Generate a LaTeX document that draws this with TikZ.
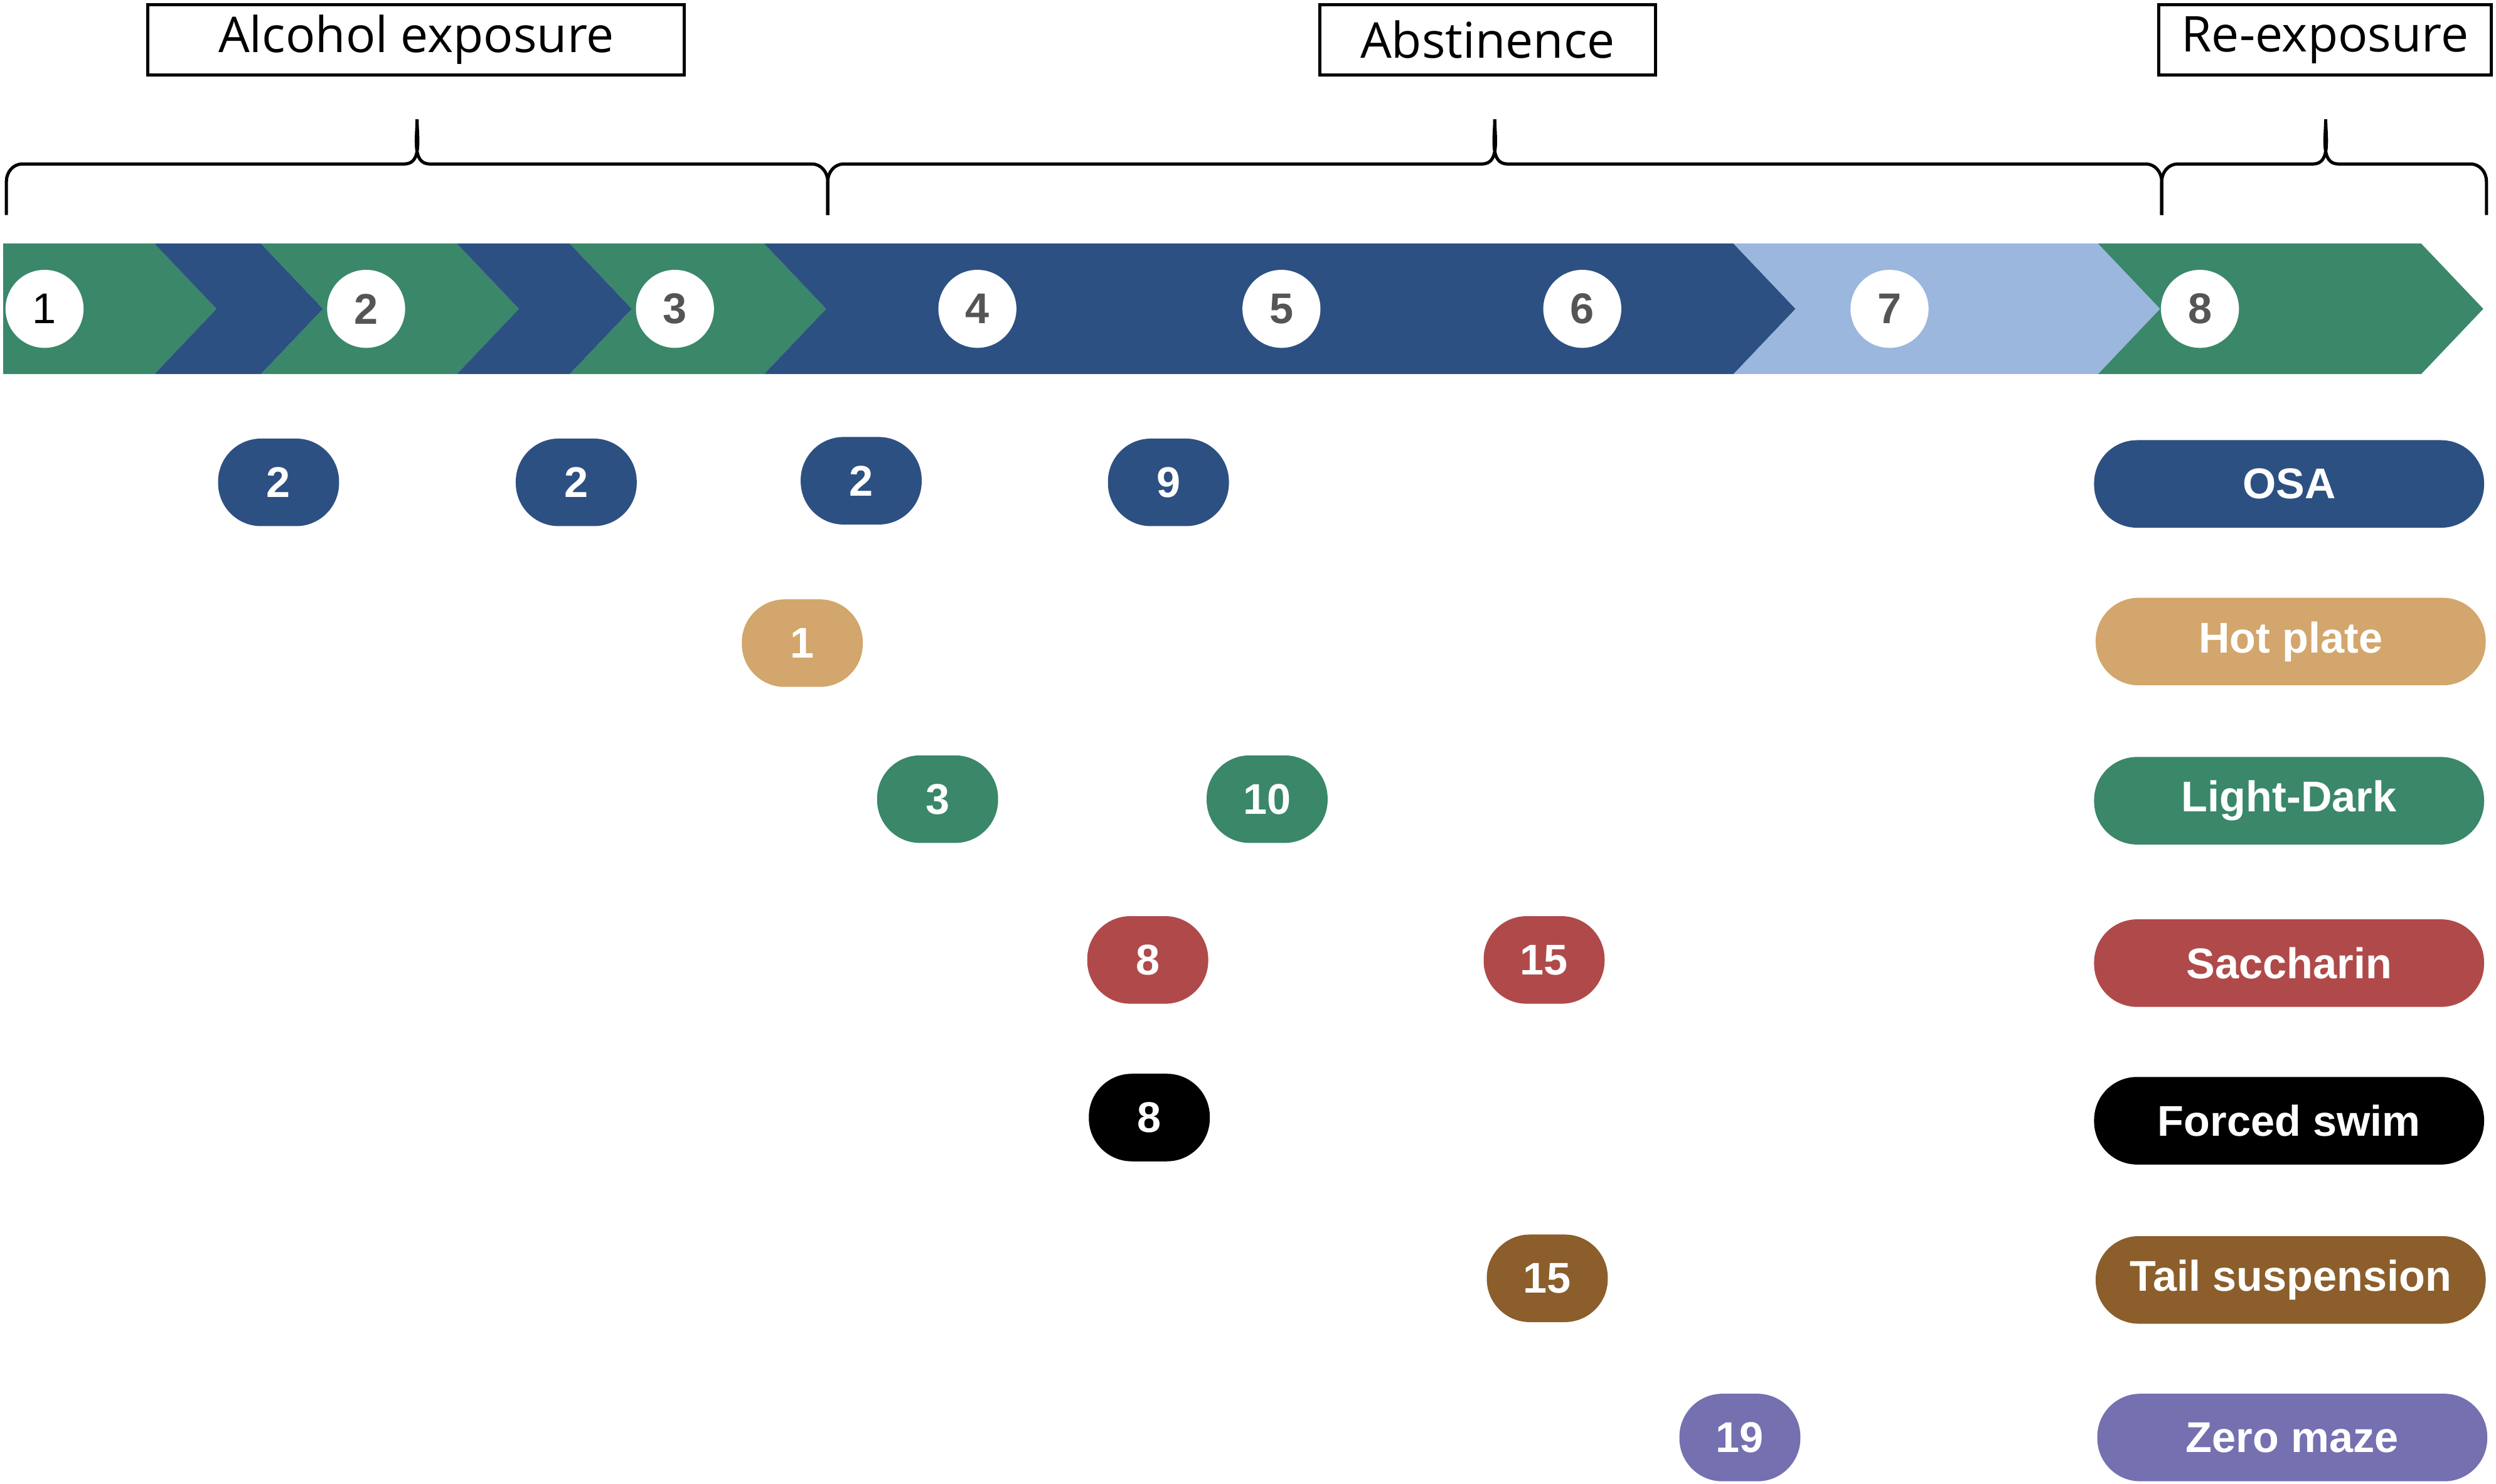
\documentclass[tikz,border=0pt]{standalone}
\usepackage{fontspec}
\setmainfont{Liberation Sans}
\newfontfamily\hdrfont{Open Sans}
\usetikzlibrary{positioning}
\definecolor{navy}{HTML}{2D5082}
\definecolor{teal}{HTML}{3A876A}
\definecolor{sky}{HTML}{9BB7DD}
\definecolor{sand}{HTML}{D2A66C}
\definecolor{brick}{HTML}{B04A4A}
\definecolor{umber}{HTML}{8B5E2B}
\definecolor{lilac}{HTML}{7570B0}
\definecolor{numgray}{HTML}{555555}

% chevron: left top x, right top x
\newcommand{\chev}[3]{\fill[#1] (#2,153) -- (#3,153) -- ({#3+39},194) -- (#3,235) -- (#2,235) -- ({#2+39},194) -- cycle;}
% brace: left, peak, right
\newcommand{\timebrace}[3]{\draw[line width=2pt] (#1,135) -- (#1,114) to[out=90,in=180] ({#1+10},103) -- ({#2-8},103) to[out=0,in=-90] (#2,75) to[out=-90,in=180] ({#2+8},103) -- ({#3-10},103) to[out=0,in=90] (#3,114) -- (#3,135);}

\begin{document}
\begin{tikzpicture}[x=1pt,y=-1pt,
  pill/.style={fill=#1, rounded corners=27pt, minimum width=76pt, minimum height=55pt, inner sep=0pt, text=white, font=\fontsize{27}{27}\selectfont\bfseries},
  tagpill/.style={pill=#1, minimum width=245pt},
  daycirc/.style={circle, fill=white, minimum size=49pt, inner sep=0pt, text=numgray, font=\fontsize{27}{27}\selectfont\bfseries},
  hdrbox/.style={draw, line width=2pt, minimum height=44pt, inner sep=0pt, font=\hdrfont\fontsize{31}{31}\selectfont}]
\useasboundingbox (0,0) rectangle (1568,932);

% header boxes
\node[hdrbox, minimum width=337pt] (hAlc) at (261.5,25) {Alcohol exposure};
\node[hdrbox, minimum width=211pt] (hAbs) at (934.5,25) {Abstinence};
\node[hdrbox, minimum width=209pt] (hRe) at (1460.5,25) {Re-exposure};

% braces
\timebrace{4}{262}{520}
\timebrace{520}{939}{1358}
\timebrace{1358}{1461}{1562}

% timeline band
\fill[teal] (2,153) -- (97,153) -- (136,194) -- (97,235) -- (2,235) -- cycle;
\chev{navy}{97}{164}
\chev{teal}{164}{287}
\chev{navy}{287}{358}
\chev{teal}{358}{480}
\chev{navy}{480}{1089}
\chev{sky}{1089}{1318}
\chev{teal}{1318}{1521}

% days
\node[daycirc, text=black, font=\fontsize{27}{27}\selectfont] (d1) at (28,194) {1};
\foreach \n/\x in {2/230,3/424,4/614,5/805,6/994,7/1187,8/1382}
  \node[daycirc] (d\n) at (\x,194) {\n};

% test labels
\node[tagpill=navy] (tOSA) at (1438,304) {OSA};
\node[tagpill=sand] (tHot) at (1439,403) {Hot plate};
\node[tagpill=teal] (tLD) at (1438,503) {Light-Dark};
\node[tagpill=brick] (tSac) at (1438,605) {Saccharin};
\node[tagpill=black] (tFS) at (1438,704) {Forced swim};
\node[tagpill=umber] (tTS) at (1439,804) {Tail suspension};
\node[tagpill=lilac] (tZM) at (1440,903) {Zero maze};

% session pills
\node[pill=navy] (o1) at (175,303) {2};
\node[pill=navy] (o2) at (362,303) {2};
\node[pill=navy] (o3) at (541,302) {2};
\node[pill=navy] (o4) at (734,303) {9};
\node[pill=sand] (h1) at (504,404) {1};
\node[pill=teal] (l1) at (589,502) {3};
\node[pill=teal] (l2) at (796,502) {10};
\node[pill=brick] (s1) at (721,603) {8};
\node[pill=brick] (s2) at (970,603) {15};
\node[pill=black] (f1) at (722,702) {8};
\node[pill=umber] (t1) at (972,803) {15};
\node[pill=lilac] (z1) at (1093,903) {19};
\end{tikzpicture}
\end{document}
